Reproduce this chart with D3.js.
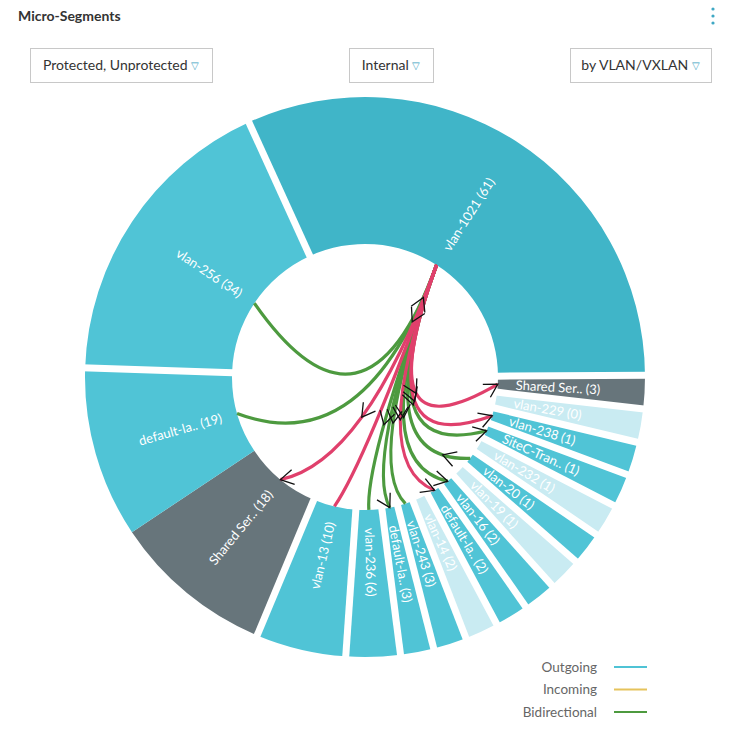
<!DOCTYPE html>
<html>
<head>
<meta charset="utf-8">
<script src="https://cdn.jsdelivr.net/npm/d3@7"></script>
<style>
  html, body { margin: 0; padding: 0; background: #fff; }
  svg { display: block; font-family: Lato, "Open Sans", sans-serif; }
</style>
</head>
<body>
<svg id="chart" width="733" height="733"></svg>
<script>
// ---------- data ----------
const segNames  = ["vlan-1021", "Shared Ser..", "vlan-229", "vlan-238", "SiteC-Tran..", "vlan-232", "vlan-20", "vlan-19", "vlan-16", "default-la..", "vlan-14", "vlan-243", "default-la..", "vlan-236", "vlan-13", "Shared Ser..", "default-la..", "vlan-256"];
const segCounts = [61, 3, 0, 1, 1, 1, 1, 1, 2, 2, 2, 3, 3, 6, 10, 18, 19, 34];
const segKinds  = ["selected", "shared", "unprotected", "protected", "protected", "unprotected", "protected", "unprotected", "protected", "protected", "unprotected", "protected", "protected", "protected", "protected", "shared", "protected", "protected"];

const linkSource  = 0;
const linkTargets = [17, 16, 13, 12, 11, 8, 6, 4, 14, 15, 9, 3, 1];
const linkTypes   = ["bidirectional", "bidirectional", "bidirectional", "bidirectional", "bidirectional", "bidirectional", "bidirectional", "bidirectional", "violation", "violation", "violation", "violation", "violation"];
const linkEndArrow = [false, false, false, true, false, true, false, true, false, true, true, true, true];
const linkMidArrow = [0, 0, 1, 0, 1, 1, 0, 1, 0, 1, 1, 1, 1];
const linkNearArrows = [[0.09, -1], [0.16, 1], null, null, null, null, [0.85, -1], null, null, null, null, null, null];

const filterLabels = ["Protected, Unprotected", "Internal", "by VLAN/VXLAN"];
const legendLabels = ["Outgoing", "Incoming", "Bidirectional"];
const legendKinds  = ["outgoing", "incoming", "bidirectional"];

// ---------- layout ----------
const cx = 365, cy = 377, rIn = 133, rOut = 280;
const MIN_SHARE = 3.7;
const startAngle = -24.5 * Math.PI / 180;

const svg = d3.select("#chart");

const segColor = d3.scaleOrdinal()
  .domain(["selected", "protected", "unprotected", "shared"])
  .range(["#40b5c8", "#50c4d6", "#c9ebf2", "#67757b"]);
const linkColor = d3.scaleOrdinal()
  .domain(["outgoing", "incoming", "bidirectional", "violation"])
  .range(["#4fc3d5", "#e6c35c", "#4d9a3f", "#e0406c"]);

// header
svg.append("text").attr("x", 18).attr("y", 21)
  .attr("font-size", 14).attr("font-weight", 700).attr("fill", "#333")
  .text("Micro-Segments");
[9, 16, 23].forEach(y => svg.append("circle").attr("cx", 713).attr("cy", y).attr("r", 1.6).attr("fill", "#3fa8c4"));

// filter boxes
const boxX = [30, 349, 570], boxW = [182, 84, 141];
filterLabels.forEach((lab, i) => {
  svg.append("rect").attr("x", boxX[i] + 0.5).attr("y", 48.5).attr("width", boxW[i]).attr("height", 34)
    .attr("fill", "#fff").attr("stroke", "#c8c8c8");
  const t = svg.append("text").attr("x", boxX[i] + boxW[i] / 2).attr("y", 70)
    .attr("text-anchor", "middle").attr("font-size", 14).attr("fill", "#333");
  t.append("tspan").text(lab + " ");
  t.append("tspan").attr("fill", "#3aa3c2").attr("font-size", 10).attr("dy", -1).text("\u25BD");
});

// pie
const segs = segNames.map((n, i) => ({ name: n, count: segCounts[i], kind: segKinds[i], i }));
const pie = d3.pie().sort(null).value(d => Math.max(d.count, MIN_SHARE))
  .startAngle(startAngle).endAngle(startAngle + 2 * Math.PI);
const arcs = pie(segs);
const arcGen = d3.arc().innerRadius(rIn).outerRadius(rOut);

const g = svg.append("g").attr("transform", `translate(${cx},${cy})`);
g.selectAll("path.seg").data(arcs).join("path").attr("class", "seg")
  .attr("d", arcGen).attr("fill", d => segColor(d.data.kind));

// white gaps between segments (default-la (19) and Shared Ser (18) touch)
arcs.forEach((d, i) => {
  if (i === 16) return;
  const a = d.startAngle;
  g.append("line")
    .attr("x1", (rIn - 1) * Math.sin(a)).attr("y1", -(rIn - 1) * Math.cos(a))
    .attr("x2", (rOut + 3) * Math.sin(a)).attr("y2", -(rOut + 3) * Math.cos(a))
    .attr("stroke", "#fff").attr("stroke-width", 7);
});

// labels
arcs.forEach(d => {
  const mid = (d.startAngle + d.endAngle) / 2;
  let deg = mid * 180 / Math.PI;
  deg = ((deg % 360) + 360) % 360;
  const right = deg < 180;
  g.append("text")
    .attr("transform", right ? `rotate(${deg - 90}) translate(151,0)` : `rotate(${deg - 90}) translate(149,0) rotate(180)`)
    .attr("text-anchor", right ? "start" : "end")
    .attr("dy", "0.35em").attr("font-size", 13).attr("fill", "#fff")
    .text(`${d.data.name} (${d.data.count})`);
});

// links
const midAngle = i => (arcs[i].startAngle + arcs[i].endAngle) / 2;
const pt = (a, r) => [r * Math.sin(a), -r * Math.cos(a)];
const H = [0, 0.64 * rIn];
const S = pt(midAngle(linkSource), rIn);

function bez(P0, C, P1, t) {
  const u = 1 - t;
  return [u * u * P0[0] + 2 * u * t * C[0] + t * t * P1[0], u * u * P0[1] + 2 * u * t * C[1] + t * t * P1[1]];
}
function tan(P0, C, P1, t) {
  const dx = 2 * (1 - t) * (C[0] - P0[0]) + 2 * t * (P1[0] - C[0]);
  const dy = 2 * (1 - t) * (C[1] - P0[1]) + 2 * t * (P1[1] - C[1]);
  const l = Math.hypot(dx, dy);
  return [dx / l, dy / l];
}
const arrowG = [];
function chevron(P, u, dir) {
  const ux = u[0] * dir, uy = u[1] * dir, L = 15, ang = 30 * Math.PI / 180;
  const arm = s => {
    const c = Math.cos(s * ang), si = Math.sin(s * ang);
    return [P[0] - L * (ux * c - uy * si), P[1] - L * (ux * si + uy * c)];
  };
  const a1 = arm(1), a2 = arm(-1);
  arrowG.push(`M${a1[0]},${a1[1]}L${P[0]},${P[1]}L${a2[0]},${a2[1]}`);
}

linkTargets.forEach((ti, k) => {
  const T = pt(midAngle(ti), rIn);
  const path = d3.path();
  path.moveTo(S[0], S[1]);
  path.quadraticCurveTo(H[0], H[1], T[0], T[1]);
  g.append("path").attr("d", path.toString()).attr("fill", "none")
    .attr("stroke", linkColor(linkTypes[k])).attr("stroke-width", 3.2);
  if (linkEndArrow[k]) chevron(T, tan(S, H, T, 1), 1);
  if (linkMidArrow[k]) chevron(bez(S, H, T, 0.5), tan(S, H, T, 0.5), linkMidArrow[k]);
  if (linkNearArrows[k]) {
    const [t, dir] = linkNearArrows[k];
    chevron(bez(S, H, T, t), tan(S, H, T, t), dir);
  }
});
arrowG.forEach(d => g.append("path").attr("d", d).attr("fill", "none")
  .attr("stroke", "#111").attr("stroke-width", 1.3));

// legend
legendLabels.forEach((lab, i) => {
  const y = 667 + i * 22.5;
  svg.append("text").attr("x", 597).attr("y", y).attr("dy", "0.35em")
    .attr("text-anchor", "end").attr("font-size", 13.5).attr("fill", "#666").text(lab);
  svg.append("line").attr("x1", 614).attr("x2", 647).attr("y1", y).attr("y2", y)
    .attr("stroke", linkColor(legendKinds[i])).attr("stroke-width", 2);
});
</script>
</body>
</html>
